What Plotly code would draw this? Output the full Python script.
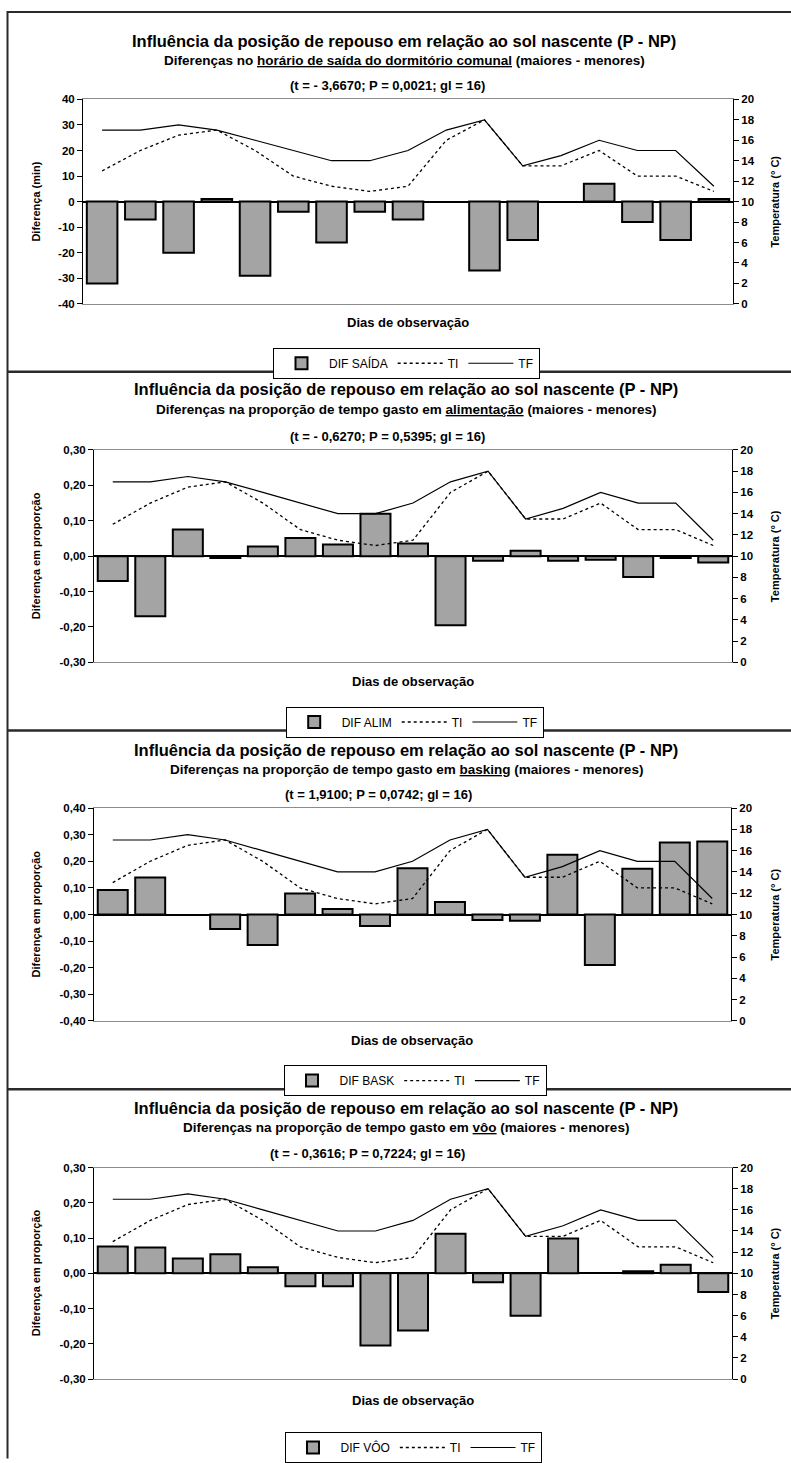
import plotly.graph_objects as go

# ---------------- data ----------------
DAYS = list(range(1, 18))
TI = [13, 15, 16.5, 17, 15, 12.5, 11.5, 11, 11.5, 16, 18, 13.5, 13.5, 15, 12.5, 12.5, 11]
TF = [17, 17, 17.5, 17, 16, 15, 14, 14, 15, 17, 18, 13.5, 14.5, 16, 15, 15, 11.5]

DIF_SAIDA = [-32, -7, -20, 1, -29, -4, -16, -4, -7, None, -27, -15, None, 7, -8, -15, 1]
DIF_ALIM = [-0.07, -0.17, 0.075, -0.005, 0.027, 0.051, 0.033, 0.12, 0.036, -0.195,
            -0.013, 0.015, -0.013, -0.01, -0.059, -0.005, -0.018]
DIF_BASK = [0.092, 0.139, None, -0.054, -0.115, 0.079, 0.021, -0.043, 0.174, 0.047,
            -0.021, -0.023, 0.225, -0.19, 0.172, 0.271, 0.274]
DIF_VOO = [0.076, 0.073, 0.042, 0.054, 0.017, -0.037, -0.037, -0.205, -0.162, 0.112,
           -0.025, -0.12, 0.099, None, 0.006, 0.024, -0.053]

BAR_NAMES = ["DIF SAÍDA", "DIF ALIM", "DIF BASK", "DIF VÔO"]
MAIN_TITLE = "Influência da posição de repouso em relação ao sol nascente (P - NP)"
SUBTITLES = [
    "Diferenças no <u>horário de saída do dormitório comunal</u> (maiores - menores)",
    "Diferenças na proporção de tempo gasto em <u>alimentação</u> (maiores - menores)",
    "Diferenças na proporção de tempo gasto em <u>basking</u> (maiores - menores)",
    "Diferenças na proporção de tempo gasto em <u>vôo</u> (maiores - menores)",
]
STATS = [
    "(t = - 3,6670; P = 0,0021; gl = 16)",
    "(t = - 0,6270; P = 0,5395; gl = 16)",
    "(t = 1,9100; P = 0,0742; gl = 16)",
    "(t = - 0,3616; P = 0,7224; gl = 16)",
]
LEFT_TITLES = ["Diferença (min)", "Diferença em proporção", "Diferença em proporção", "Diferença em proporção"]
RIGHT_TITLE = "Temperatura (° C)"
X_TITLE = "Dias de observação"

TICKS_MIN = [-40, -30, -20, -10, 0, 10, 20, 30, 40]
TICKS_MIN_TXT = ["-40", "-30", "-20", "-10", "0", "10", "20", "30", "40"]
TICKS_P30 = [-0.3, -0.2, -0.1, 0, 0.1, 0.2, 0.3]
TICKS_P30_TXT = ["-0,30", "-0,20", "-0,10", "0,00", "0,10", "0,20", "0,30"]
TICKS_P40 = [-0.4, -0.3, -0.2, -0.1, 0, 0.1, 0.2, 0.3, 0.4]
TICKS_P40_TXT = ["-0,40", "-0,30", "-0,20", "-0,10", "0,00", "0,10", "0,20", "0,30", "0,40"]
TICKS_TEMP = [0, 2, 4, 6, 8, 10, 12, 14, 16, 18, 20]

# ---------------- layout constants (pixels) ----------------
W, H = 791, 1463
FONT = "Liberation Sans, Arial, sans-serif"

panels = [
    dict(vals=DIF_SAIDA, ticks=TICKS_MIN, tickt=TICKS_MIN_TXT, rng=[-40, 40],
         x0=83, x1=733, top=95, bot=303,
         ty=37.7, sy=52.7, sty=80.7, tx=404, stx=387, dy=322.3, ly=347.7, lx=406.5, ptop=6),
    dict(vals=DIF_ALIM, ticks=TICKS_P30, tickt=TICKS_P30_TXT, rng=[-0.3, 0.3],
         x0=94, x1=732, top=451.7, bot=667.7,
         ty=392.6, sy=408.3, sty=438.3, tx=406, stx=387, dy=687.3, ly=712.7, lx=414.7, ptop=372),
    dict(vals=DIF_BASK, ticks=TICKS_P40, tickt=TICKS_P40_TXT, rng=[-0.4, 0.4],
         x0=94, x1=731, top=816, bot=1032.6,
         ty=759, sy=774.3, sty=802.3, tx=406, stx=378.5, dy=1052.5, ly=1077.5, lx=415, ptop=737),
    dict(vals=DIF_VOO, ticks=TICKS_P30, tickt=TICKS_P30_TXT, rng=[-0.3, 0.3],
         x0=94, x1=732, top=1181.7, bot=1397,
         ty=1123.3, sy=1139, sty=1167.3, tx=406, stx=367, dy=1418.3, ly=1451, lx=413, ptop=1102),
]


def px(x):
    return x / W


def py(y):
    return 1 - y / H


fig = go.Figure()
layout = dict(
    width=W, height=H, autosize=False,
    margin=dict(l=0, r=0, t=0, b=0),
    paper_bgcolor="white", plot_bgcolor="white",
    font=dict(family=FONT, color="black"),
    bargap=0.2,
    showlegend=True,
)
annotations = []
shapes = []

for i, p in enumerate(panels):
    n = i + 1
    xa = "x" if n == 1 else f"x{n}"
    yl_idx = 2 * i + 1
    yr_idx = 2 * i + 2
    yl = "y" if yl_idx == 1 else f"y{yl_idx}"
    yr = f"y{yr_idx}"
    leg = "legend" if n == 1 else f"legend{n}"

    fig.add_trace(go.Bar(
        x=DAYS, y=p["vals"], name=BAR_NAMES[i], xaxis=xa, yaxis=yl, legend=leg,
        marker=dict(color="#a4a4a4", line=dict(color="black", width=2)),
        width=0.8,
    ))
    fig.add_trace(go.Scatter(
        x=DAYS, y=TI, name="TI", mode="lines", xaxis=xa, yaxis=yr, legend=leg,
        line=dict(color="black", width=1.3, dash="3px,3px"),
    ))
    fig.add_trace(go.Scatter(
        x=DAYS, y=TF, name="TF", mode="lines", xaxis=xa, yaxis=yr, legend=leg,
        line=dict(color="black", width=1.2),
    ))

    dom_x = [px(p["x0"]), px(p["x1"])]
    dom_y = [py(p["bot"]), py(p["top"])]
    xkey = "xaxis" if n == 1 else f"xaxis{n}"
    ylkey = "yaxis" if yl_idx == 1 else f"yaxis{yl_idx}"
    yrkey = f"yaxis{yr_idx}"

    layout[xkey] = dict(
        domain=dom_x, anchor=yl, range=[0.5, 17.5],
        showticklabels=False, ticks="", showgrid=False, zeroline=False,
        showline=True, mirror=True, linecolor="#8c8c8c", linewidth=1,
    )
    layout[ylkey] = dict(
        domain=dom_y, anchor=xa, range=p["rng"],
        tickvals=p["ticks"], ticktext=p["tickt"],
        ticks="outside", ticklen=5, tickcolor="black", tickwidth=1,
        tickfont=dict(family=FONT, size=11.5, weight="bold"),
        showgrid=False, showline=True, linecolor="black", linewidth=1,
        zeroline=True, zerolinecolor="black", zerolinewidth=1.5,
    )
    layout[yrkey] = dict(
        domain=dom_y, anchor=xa, overlaying=yl, side="right", range=[0, 20],
        tickvals=TICKS_TEMP,
        ticks="outside", ticklen=5, tickcolor="black", tickwidth=1,
        tickfont=dict(family=FONT, size=11.5, weight="bold"),
        showgrid=False, showline=True, linecolor="black", linewidth=1, zeroline=False,
    )
    layout[leg] = dict(
        orientation="h", x=px(p["lx"]), y=py(p["ly"]), xanchor="center", yanchor="top",
        xref="paper", yref="paper",
        bordercolor="black", borderwidth=1, bgcolor="white",
        font=dict(family=FONT, size=12), itemwidth=45,
        tracegroupgap=0, traceorder="normal",
    )

    # texts
    annotations += [
        dict(text=f"<b>{MAIN_TITLE}</b>", x=px(p["tx"]), y=py(p["ty"] - 2.5), xref="paper", yref="paper",
             showarrow=False, xanchor="center", yanchor="middle", font=dict(family=FONT, size=16.5)),
        dict(text=f"<b>{SUBTITLES[i]}</b>", x=px(p["tx"]), y=py(p["sy"] + 2.5), xref="paper", yref="paper",
             showarrow=False, xanchor="center", yanchor="middle", font=dict(family=FONT, size=13.5)),
        dict(text=f"<b>{STATS[i]}</b>", x=px(p["stx"]), y=py(p["sty"]), xref="paper", yref="paper",
             showarrow=False, xanchor="center", yanchor="middle", font=dict(family=FONT, size=13)),
        dict(text=f"<b>{X_TITLE}</b>", x=px((p["x0"] + p["x1"]) / 2), y=py(p["dy"]),
             xref="paper", yref="paper", showarrow=False, xanchor="center", yanchor="middle",
             font=dict(family=FONT, size=13)),
        dict(text=f"<b>{LEFT_TITLES[i]}</b>", x=px(36), y=py((p["top"] + p["bot"]) / 2),
             xref="paper", yref="paper", showarrow=False, textangle=-90,
             xanchor="center", yanchor="middle", font=dict(family=FONT, size=11)),
        dict(text=f"<b>{RIGHT_TITLE}</b>", x=px(775), y=py((p["top"] + p["bot"]) / 2),
             xref="paper", yref="paper", showarrow=False, textangle=-90,
             xanchor="center", yanchor="middle", font=dict(family=FONT, size=11)),
    ]
    # panel frame (top separator line)
    shapes.append(dict(type="line", xref="paper", yref="paper",
                       x0=px(7), x1=1.02, y0=py(p["ptop"]), y1=py(p["ptop"]),
                       line=dict(color="#2a2a2a", width=2.5 if i else 2)))

shapes.append(dict(type="line", xref="paper", yref="paper",
                   x0=px(7.5), x1=px(7.5), y0=py(5), y1=-0.01,
                   line=dict(color="#2a2a2a", width=2)))

layout["annotations"] = annotations
layout["shapes"] = shapes
fig.update_layout(**layout)

# remove the default 8px body margin so the 791x1463 figure fills the window exactly
fig.write_html("out.html", config={"displayModeBar": False},
               post_script="document.body.style.margin='0';")
